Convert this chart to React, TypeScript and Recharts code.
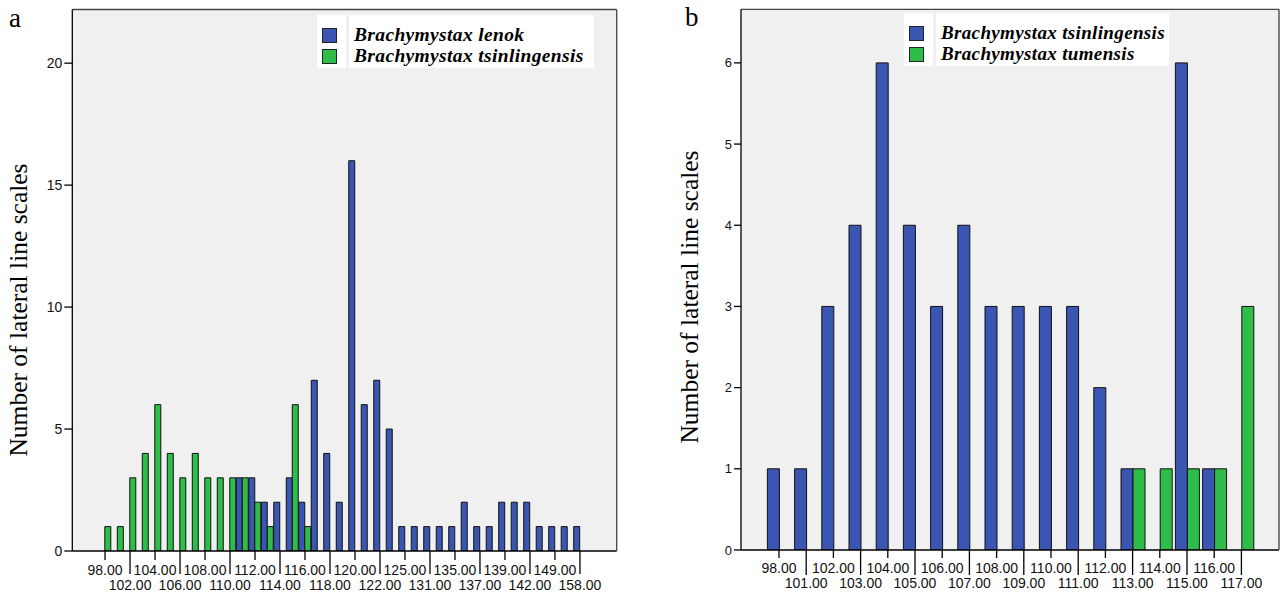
import { BarChart, Bar, XAxis, YAxis, CartesianGrid } from "recharts";

// panel a: lateral line scale counts, B. lenok vs B. tsinlingensis
const catsA = [
  "98.00", "100.00", "102.00", "103.00", "104.00", "105.00", "106.00", "107.00", "108.00", "109.00",
  "110.00", "111.00", "112.00", "113.00", "114.00", "115.00", "116.00", "117.00", "118.00", "119.00",
  "120.00", "121.00", "122.00", "123.00", "125.00", "128.00", "131.00", "133.00", "135.00", "136.00",
  "137.00", "138.00", "139.00", "140.00", "142.00", "145.00", "149.00", "153.00", "158.00"
];
const lenokA = [
  0, 0, 0, 0, 0, 0, 0, 0, 0, 0,
  0, 3, 3, 2, 2, 3, 2, 7, 4, 2,
  16, 6, 7, 5, 1, 1, 1, 1, 1, 2,
  1, 1, 2, 2, 2, 1, 1, 1, 1
];
const tsinA = [
  1, 1, 3, 4, 6, 4, 3, 4, 3, 3,
  3, 3, 2, 1, 0, 6, 1, 0, 0, 0,
  0, 0, 0, 0, 0, 0, 0, 0, 0, 0,
  0, 0, 0, 0, 0, 0, 0, 0, 0
];
const ticksA = [0, 5, 10, 15, 20];

// panel b: B. tsinlingensis vs B. tumensis
const catsB = [
  "98.00", "101.00", "102.00", "103.00", "104.00", "105.00", "106.00", "107.00", "108.00",
  "109.00", "110.00", "111.00", "112.00", "113.00", "114.00", "115.00", "116.00", "117.00"
];
const tsinB = [1, 1, 3, 4, 6, 4, 3, 4, 3, 3, 3, 3, 2, 1, 0, 6, 1, 0];
const tumB = [0, 0, 0, 0, 0, 0, 0, 0, 0, 0, 0, 0, 0, 1, 1, 1, 1, 3];
const ticksB = [0, 1, 2, 3, 4, 5, 6];

const BLUE = "#3b55b3";
const GREEN = "#2ebd49";
const PLOT_BG = "#f0f0f0";
const SANS = "'Liberation Sans', Arial, sans-serif";
const SERIF = "'Liberation Serif', 'Times New Roman', serif";

const dataA = catsA.map((cat, i) => ({ cat, lenok: lenokA[i], tsin: tsinA[i] }));
const dataB = catsB.map((cat, i) => ({ cat, tsin: tsinB[i], tum: tumB[i] }));

function StaggerTick(props: any) {
  const { x, y, payload, index, step, shortLen, longLen, topY, bottomY } = props;
  const idx = index ?? payload?.index ?? 0;
  if (idx % step !== 0) return <g />;
  const top = (idx / step) % 2 === 0;
  return (
    <g>
      <line x1={x} y1={y} x2={x} y2={y + (top ? shortLen : longLen)} stroke="#000" strokeWidth={1.3} />
      <text
        x={x}
        y={y + (top ? topY : bottomY)}
        textAnchor="middle"
        fontFamily={SANS}
        fontSize={14}
        fill="#111"
      >
        {payload.value}
      </text>
    </g>
  );
}

function YTitle({ cx, cy }: { cx: number; cy: number }) {
  return (
    <div
      style={{
        position: "absolute",
        left: cx - 180,
        top: cy - 15,
        width: 360,
        height: 30,
        lineHeight: "30px",
        textAlign: "center",
        transform: "rotate(-90deg)",
        fontFamily: SERIF,
        fontSize: 25.5,
        color: "#000",
        whiteSpace: "nowrap"
      }}
    >
      Number of lateral line scales
    </div>
  );
}

function LegendBox(props: {
  left: number;
  top: number;
  textW: number;
  size: number;
  spacing: number;
  items: { name: string; color: string }[];
}) {
  const { left, top, textW, size, spacing, items } = props;
  return (
    <div style={{ position: "absolute", left, top, display: "flex", gap: 3 }}>
      <div style={{ background: "#fff", width: 29, height: 53, position: "relative" }}>
        {items.map((it, i) => (
          <div
            key={it.name}
            style={{
              position: "absolute",
              left: 5,
              top: 13 + i * spacing,
              width: 13,
              height: 13,
              background: it.color,
              border: "1px solid #222"
            }}
          />
        ))}
      </div>
      <div style={{ background: "#fff", width: textW, height: 53, position: "relative" }}>
        {items.map((it, i) => (
          <div
            key={it.name}
            style={{
              position: "absolute",
              left: 5,
              top: 10 + i * spacing,
              fontFamily: SERIF,
              fontSize: size,
              fontWeight: "bold",
              fontStyle: "italic",
              letterSpacing: 0.35,
              lineHeight: "19px",
              height: 19,
              whiteSpace: "nowrap",
              color: "#000"
            }}
          >
            {it.name}
          </div>
        ))}
      </div>
    </div>
  );
}

export default function App() {
  return (
    <div style={{ position: "absolute", left: 0, top: 0, width: 1281, height: 594, background: "#fff", overflow: "hidden" }}>
      {/* panel a */}
      <div style={{ position: "absolute", left: 0, top: 0 }}>
        <BarChart
          width={640}
          height={594}
          data={dataA}
          margin={{ top: 8.5, right: 22.3, bottom: 0, left: 0 }}
          barCategoryGap={0}
          barGap={0}
        >
          <CartesianGrid fill={PLOT_BG} horizontal={false} vertical={false} />
          <XAxis
            dataKey="cat"
            interval={0}
            height={43}
            tickSize={0}
            tickMargin={0}
            tickLine={false}
            axisLine={{ stroke: "#000", strokeWidth: 1.3 }}
            padding={{ left: 26.5, right: 30.5 }}
            tick={(p: any) => <StaggerTick {...p} step={2} shortLen={9} longLen={23} topY={24} bottomY={39} />}
          />
          <XAxis xAxisId="top" dataKey="cat" orientation="top" height={1} tick={false} tickLine={false} axisLine={{ stroke: "#444", strokeWidth: 1.3 }} />
          <YAxis
            domain={[0, 22.2]}
            ticks={ticksA}
            allowDataOverflow
            width={72.3}
            tickSize={8}
            tickMargin={2}
            axisLine={{ stroke: "#000", strokeWidth: 1.3 }}
            tickLine={{ stroke: "#000", strokeWidth: 1.3 }}
            tick={{ fontFamily: SANS, fontSize: 14, fill: "#111" }}
          />
          <YAxis yAxisId="right" orientation="right" width={1} tick={false} tickLine={false} axisLine={{ stroke: "#444", strokeWidth: 1.3 }} />
          <Bar dataKey="lenok" fill={BLUE} stroke="#111" strokeWidth={1} isAnimationActive={false} />
          <Bar dataKey="tsin" fill={GREEN} stroke="#111" strokeWidth={1} isAnimationActive={false} />
        </BarChart>
      </div>

      {/* panel b */}
      <div style={{ position: "absolute", left: 660, top: 0 }}>
        <BarChart
          width={621}
          height={594}
          data={dataB}
          margin={{ top: 8.3, right: 1, bottom: 0, left: 0 }}
          barSize={12}
          barGap={0}
        >
          <CartesianGrid fill={PLOT_BG} horizontal={false} vertical={false} />
          <XAxis
            dataKey="cat"
            interval={0}
            height={44}
            tickSize={0}
            tickMargin={0}
            tickLine={false}
            axisLine={{ stroke: "#000", strokeWidth: 1.3 }}
            padding={{ left: 24.4, right: 24 }}
            tick={(p: any) => <StaggerTick {...p} step={1} shortLen={8} longLen={25} topY={23} bottomY={38} />}
          />
          <XAxis xAxisId="top" dataKey="cat" orientation="top" height={1} tick={false} tickLine={false} axisLine={{ stroke: "#444", strokeWidth: 1.3 }} />
          <YAxis
            domain={[0, 6.66]}
            ticks={ticksB}
            allowDataOverflow
            width={81}
            tickSize={7}
            tickMargin={2}
            axisLine={{ stroke: "#000", strokeWidth: 1.3 }}
            tickLine={{ stroke: "#000", strokeWidth: 1.3 }}
            tick={{ fontFamily: SANS, fontSize: 13, fill: "#111" }}
          />
          <YAxis yAxisId="right" orientation="right" width={1} tick={false} tickLine={false} axisLine={{ stroke: "#555", strokeWidth: 1.5 }} />
          <Bar dataKey="tsin" fill={BLUE} stroke="#111" strokeWidth={1} isAnimationActive={false} />
          <Bar dataKey="tum" fill={GREEN} stroke="#111" strokeWidth={1} isAnimationActive={false} />
        </BarChart>
      </div>

      <LegendBox
        left={317}
        top={15}
        textW={245}
        size={19.5}
        spacing={21}
        items={[
          { name: "Brachymystax lenok", color: BLUE },
          { name: "Brachymystax tsinlingensis", color: GREEN }
        ]}
      />
      <LegendBox
        left={904}
        top={13}
        textW={233}
        size={19}
        spacing={21}
        items={[
          { name: "Brachymystax tsinlingensis", color: BLUE },
          { name: "Brachymystax tumensis", color: GREEN }
        ]}
      />

      <YTitle cx={19} cy={310} />
      <YTitle cx={690} cy={297} />

      <div style={{ position: "absolute", left: 9, top: 3, fontFamily: SERIF, fontSize: 27, color: "#000" }}>a</div>
      <div style={{ position: "absolute", left: 685, top: 2, fontFamily: SERIF, fontSize: 27, color: "#000" }}>b</div>
    </div>
  );
}
